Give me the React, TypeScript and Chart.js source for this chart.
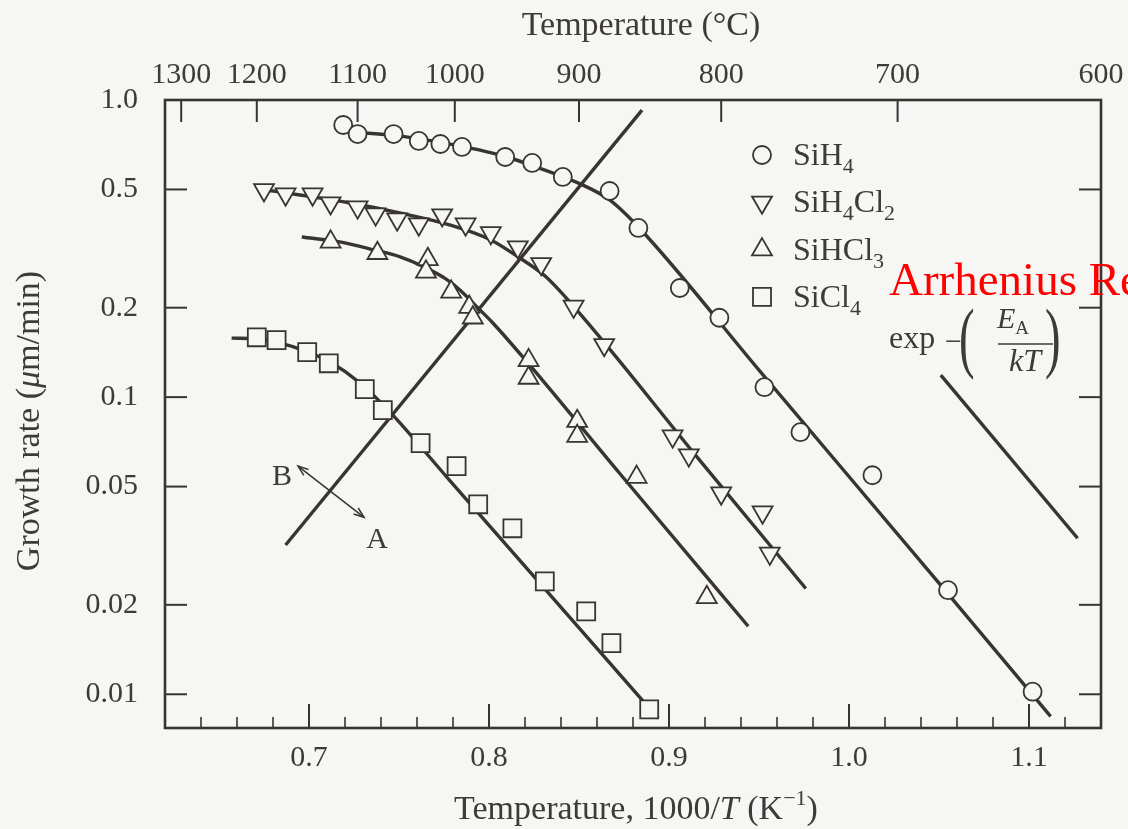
import React, { useEffect, useRef } from 'react';
import { Chart, registerables } from 'chart.js';

Chart.register(...registerables);

const SERIF = '"Liberation Serif", "DejaVu Serif", serif';
const INK = '#383434';
const TEXT = '#3e3a3a';
const PAPER = '#f6f6f4';
const RED = '#ff0000';

// ---- axes ----
const X_MIN = 0.62;
const X_MAX = 1.14;
const Y_MIN = 0.0077;
const Y_MAX = 1.0;

const xTickValues = [0.7, 0.8, 0.9, 1.0, 1.1];
const xTickLabels = ['0.7', '0.8', '0.9', '1.0', '1.1'];
const xMinorTicks = [0.64, 0.66, 0.68, 0.72, 0.74, 0.76, 0.78, 0.82, 0.84, 0.86, 0.88, 0.92, 0.94, 0.96, 0.98, 1.02, 1.04, 1.06, 1.08, 1.12];
const yTickValues = [1, 0.5, 0.2, 0.1, 0.05, 0.02, 0.01];
const yTickLabels = ['1.0', '0.5', '0.2', '0.1', '0.05', '0.02', '0.01'];
const tempTickValues = [0.629, 0.671, 0.727, 0.781, 0.85, 0.929, 1.027, 1.14];
const tempTickLabels = ['1300', '1200', '1100', '1000', '900', '800', '700', '600'];

// ---- measured points (x = 1000/T, y = growth rate µm/min) ----
const siH4X = [0.719, 0.727, 0.747, 0.761, 0.773, 0.785, 0.809, 0.824, 0.841, 0.867, 0.883, 0.906, 0.928, 0.953, 0.973, 1.013, 1.055, 1.102];
const siH4Y = [0.824, 0.768, 0.768, 0.728, 0.711, 0.695, 0.643, 0.614, 0.551, 0.494, 0.371, 0.233, 0.185, 0.108, 0.0762, 0.0546, 0.0224, 0.0102];

const siH2Cl2X = [0.675, 0.687, 0.702, 0.712, 0.727, 0.737, 0.749, 0.761, 0.774, 0.787, 0.801, 0.816, 0.829, 0.847, 0.864, 0.902, 0.911, 0.929, 0.952, 0.956];
const siH2Cl2Y = [0.498, 0.482, 0.482, 0.45, 0.436, 0.413, 0.397, 0.382, 0.41, 0.382, 0.357, 0.32, 0.281, 0.202, 0.15, 0.0739, 0.0638, 0.0475, 0.041, 0.0298];

const siHCl3X = [0.712, 0.738, 0.766, 0.765, 0.779, 0.789, 0.791, 0.822, 0.822, 0.849, 0.849, 0.882, 0.921];
const siHCl3Y = [0.333, 0.305, 0.291, 0.264, 0.226, 0.201, 0.185, 0.133, 0.116, 0.083, 0.0739, 0.0538, 0.0212];

const siCl4X = [0.671, 0.682, 0.699, 0.711, 0.731, 0.741, 0.762, 0.782, 0.794, 0.813, 0.831, 0.854, 0.868, 0.889];
const siCl4Y = [0.159, 0.1556, 0.1418, 0.13, 0.1064, 0.0904, 0.07, 0.0586, 0.0436, 0.0362, 0.024, 0.019, 0.01486, 0.0089];

// ---- fitted curves ----
const siH4FitX = [0.724, 0.751, 0.778, 0.806, 0.828, 0.851, 0.867, 0.884, 0.95, 1.05, 1.112];
const siH4FitY = [0.78, 0.756, 0.711, 0.653, 0.59, 0.521, 0.461, 0.368, 0.1233, 0.02365, 0.00843];

const siH2Cl2FitX = [0.676, 0.695, 0.723, 0.751, 0.778, 0.801, 0.816, 0.831, 0.847, 0.917, 0.976];
const siH2Cl2FitY = [0.498, 0.479, 0.45, 0.416, 0.38, 0.338, 0.297, 0.256, 0.202, 0.0614, 0.0227];

const siHCl3FitX = [0.696, 0.717, 0.736, 0.751, 0.763, 0.776, 0.784, 0.793, 0.802, 0.819, 0.873, 0.944];
const siHCl3FitY = [0.346, 0.333, 0.313, 0.296, 0.276, 0.25, 0.229, 0.202, 0.178, 0.136, 0.055, 0.01694];

const siCl4FitX = [0.657, 0.67, 0.684, 0.698, 0.712, 0.728, 0.744, 0.778, 0.894];
const siCl4FitY = [0.158, 0.157, 0.152, 0.143, 0.131, 0.112, 0.0904, 0.0526, 0.0083];

// boundary between regimes A and B
const boundaryX = [0.687, 0.885];
const boundaryY = [0.0318, 0.925];

// Arrhenius slope reference line
const slopeX = [1.051, 1.127];
const slopeY = [0.1186, 0.0335];

// B <-> A arrow
const arrowX = [0.6939, 0.7306];
const arrowY = [0.0586, 0.0394];

const legendNames = ['SiH4', 'SiH4Cl2', 'SiHCl3', 'SiCl4'];
const legendStyles = ['circle', 'triDown', 'triUp', 'square'];

const f = (s: number) => `${s}px ${SERIF}`;
const fi = (s: number) => `italic ${s}px ${SERIF}`;

type Seg = { t: string; font: string; dy?: number };

function richWidth(ctx: CanvasRenderingContext2D, segs: Seg[]) {
  let w = 0;
  for (const s of segs) {
    ctx.font = s.font;
    w += ctx.measureText(s.t).width;
  }
  return w;
}

function drawRich(ctx: CanvasRenderingContext2D, segs: Seg[], x: number, y: number, align: 'left' | 'center') {
  let cx = align === 'center' ? x - richWidth(ctx, segs) / 2 : x;
  ctx.textAlign = 'left';
  ctx.textBaseline = 'alphabetic';
  for (const s of segs) {
    ctx.font = s.font;
    ctx.fillText(s.t, cx, y + (s.dy || 0));
    cx += ctx.measureText(s.t).width;
  }
}

function chemSegs(name: string, size: number, sub: number): Seg[] {
  return name
    .split(/(\d+)/)
    .filter((p) => p.length)
    .map((p) => (/^\d+$/.test(p) ? { t: p, font: f(sub), dy: 8 } : { t: p, font: f(size) }));
}

function drawMarker(ctx: CanvasRenderingContext2D, style: string, x: number, y: number) {
  ctx.beginPath();
  if (style === 'circle') {
    ctx.arc(x, y, 9, 0, Math.PI * 2);
  } else if (style === 'square') {
    ctx.rect(x - 9, y - 9, 18, 18);
  } else {
    const r = 11.5;
    const s = style === 'triDown' ? -1 : 1;
    ctx.moveTo(x, y - s * r);
    ctx.lineTo(x + r * Math.sin(Math.PI / 3), y + (s * r) / 2);
    ctx.lineTo(x - r * Math.sin(Math.PI / 3), y + (s * r) / 2);
    ctx.closePath();
  }
  ctx.fillStyle = PAPER;
  ctx.fill();
  ctx.lineWidth = 1.8;
  ctx.strokeStyle = INK;
  ctx.stroke();
}

function seg(ctx: CanvasRenderingContext2D, x1: number, y1: number, x2: number, y2: number) {
  ctx.beginPath();
  ctx.moveTo(x1, y1);
  ctx.lineTo(x2, y2);
  ctx.stroke();
}

const decor = {
  id: 'decor',
  beforeDraw(chart: any) {
    const { ctx, width, height } = chart;
    ctx.save();
    ctx.fillStyle = PAPER;
    ctx.fillRect(0, 0, width, height);
    ctx.restore();
  },
  afterDatasetsDraw(chart: any) {
    const { ctx } = chart;
    const { left, right, top, bottom } = chart.chartArea;
    const xs = chart.scales.x;
    const ys = chart.scales.y;
    ctx.save();
    ctx.strokeStyle = INK;
    ctx.lineCap = 'butt';

    // tick marks (inward)
    ctx.lineWidth = 2;
    yTickValues.forEach((v) => {
      const py = ys.getPixelForValue(v);
      seg(ctx, left, py, left + 22, py);
      seg(ctx, right, py, right - 22, py);
    });
    xTickValues.forEach((v) => {
      const px = xs.getPixelForValue(v);
      seg(ctx, px, bottom, px, bottom - 24);
    });
    ctx.lineWidth = 1.6;
    xMinorTicks.forEach((v) => {
      const px = xs.getPixelForValue(v);
      seg(ctx, px, bottom, px, bottom - 11);
    });
    ctx.lineWidth = 2;
    tempTickValues.forEach((v) => {
      const px = xs.getPixelForValue(v);
      seg(ctx, px, top, px, top + 22);
    });

    // frame
    ctx.lineWidth = 2.6;
    ctx.strokeRect(left, top, right - left, bottom - top);

    // arrow B <-> A
    const ax1 = xs.getPixelForValue(arrowX[0]);
    const ay1 = ys.getPixelForValue(arrowY[0]);
    const ax2 = xs.getPixelForValue(arrowX[1]);
    const ay2 = ys.getPixelForValue(arrowY[1]);
    ctx.lineWidth = 1.5;
    seg(ctx, ax1, ay1, ax2, ay2);
    const ang = Math.atan2(ay2 - ay1, ax2 - ax1);
    const head = (hx: number, hy: number, a: number) => {
      ctx.beginPath();
      ctx.moveTo(hx + 11 * Math.cos(a + 0.35), hy + 11 * Math.sin(a + 0.35));
      ctx.lineTo(hx, hy);
      ctx.lineTo(hx + 11 * Math.cos(a - 0.35), hy + 11 * Math.sin(a - 0.35));
      ctx.stroke();
    };
    head(ax1, ay1, ang);
    head(ax2, ay2, ang + Math.PI);

    ctx.fillStyle = TEXT;
    ctx.font = f(30);
    ctx.textAlign = 'center';
    ctx.textBaseline = 'alphabetic';
    ctx.fillText('B', ax1 - 16, ay1 + 19);
    ctx.fillText('A', ax2 + 13, ay2 + 31);

    // legend
    legendNames.forEach((name, i) => {
      const cy = 155 + i * 47.3;
      drawMarker(ctx, legendStyles[i], 762, cy);
      ctx.fillStyle = TEXT;
      drawRich(ctx, chemSegs(name, 32, 22), 793, cy + 10, 'left');
    });

    // exp -(E_A / kT)
    ctx.fillStyle = TEXT;
    drawRich(ctx, [{ t: 'exp', font: f(32) }], 889, 348, 'left');
    drawRich(ctx, [{ t: '\u2212', font: f(30) }], 945, 351, 'left');
    ctx.font = f(78);
    ctx.save();
    ctx.translate(959, 363);
    ctx.scale(0.6, 1);
    ctx.fillText('(', 0, 0);
    ctx.restore();
    ctx.save();
    ctx.translate(1045, 363);
    ctx.scale(0.6, 1);
    ctx.fillText(')', 0, 0);
    ctx.restore();
    drawRich(ctx, [{ t: 'E', font: fi(30) }, { t: 'A', font: f(19), dy: 6 }], 997, 328, 'left');
    ctx.lineWidth = 1.6;
    ctx.strokeStyle = TEXT;
    seg(ctx, 998, 344, 1053, 344);
    drawRich(ctx, [{ t: 'kT', font: fi(32) }], 1025, 371, 'center');

    // red overlay text
    ctx.fillStyle = RED;
    drawRich(ctx, [{ t: 'Arrhenius Re', font: f(47) }], 889, 295, 'left');

    // axis titles
    ctx.fillStyle = TEXT;
    drawRich(ctx, [{ t: 'Temperature (\u00B0C)', font: f(34) }], 641, 35, 'center');
    drawRich(
      ctx,
      [
        { t: 'Temperature, 1000/', font: f(34) },
        { t: 'T', font: fi(34) },
        { t: ' (K', font: f(34) },
        { t: '\u22121', font: f(22), dy: -14 },
        { t: ')', font: f(34) },
      ],
      636,
      819,
      'center'
    );
    ctx.save();
    ctx.translate(39, 421);
    ctx.rotate(-Math.PI / 2);
    drawRich(
      ctx,
      [
        { t: 'Growth rate (', font: f(34) },
        { t: '\u03BC', font: fi(34) },
        { t: 'm/min)', font: f(34) },
      ],
      0,
      0,
      'center'
    );
    ctx.restore();
    ctx.restore();
  },
};

const pts = (xs: number[], ys: number[]) => xs.map((x, i) => ({ x, y: ys[i] }));

const markerDs = (label: string, xs: number[], ys: number[], style: string, rot: number, r: number) => ({
  type: 'line' as const,
  label,
  data: pts(xs, ys),
  showLine: false,
  pointStyle: style,
  pointRotation: rot,
  pointRadius: r,
  pointHoverRadius: r,
  pointBorderWidth: 1.8,
  pointBorderColor: INK,
  pointBackgroundColor: PAPER,
  order: 0,
});

const curveDs = (label: string, xs: number[], ys: number[], mono: boolean) => ({
  type: 'line' as const,
  label,
  data: pts(xs, ys),
  showLine: true,
  borderColor: INK,
  borderWidth: 3.4,
  pointRadius: 0,
  pointHoverRadius: 0,
  cubicInterpolationMode: mono ? ('monotone' as const) : ('default' as const),
  tension: 0,
  fill: false,
  order: 1,
});

const tickFont = { family: SERIF, size: 30 };

export default function App() {
  const ref = useRef<HTMLCanvasElement>(null);

  useEffect(() => {
    if (!ref.current) return;
    const chart = new Chart(ref.current, {
      type: 'line',
      data: {
        datasets: [
          markerDs('SiH4', siH4X, siH4Y, 'circle', 0, 9),
          markerDs('SiH4Cl2', siH2Cl2X, siH2Cl2Y, 'triangle', 180, 11.5),
          markerDs('SiHCl3', siHCl3X, siHCl3Y, 'triangle', 0, 11.5),
          markerDs('SiCl4', siCl4X, siCl4Y, 'rect', 0, 12.7),
          curveDs('SiH4 fit', siH4FitX, siH4FitY, true),
          curveDs('SiH4Cl2 fit', siH2Cl2FitX, siH2Cl2FitY, true),
          curveDs('SiHCl3 fit', siHCl3FitX, siHCl3FitY, true),
          curveDs('SiCl4 fit', siCl4FitX, siCl4FitY, true),
          curveDs('A/B boundary', boundaryX, boundaryY, false),
          curveDs('exp(-EA/kT)', slopeX, slopeY, false),
        ] as any,
      },
      options: {
        animation: false,
        responsive: false,
        devicePixelRatio: 1,
        events: [],
        layout: { padding: { left: 0, right: 27, top: 0, bottom: 0 } },
        plugins: { legend: { display: false }, tooltip: { enabled: false } },
        scales: {
          x: {
            type: 'linear',
            position: 'bottom',
            min: X_MIN,
            max: X_MAX,
            grid: { display: false, drawTicks: false },
            border: { display: false },
            afterBuildTicks: (s: any) => {
              s.ticks = xTickValues.map((v) => ({ value: v }));
            },
            afterFit: (s: any) => {
              s.height = 101;
              s.paddingLeft = 0;
              s.paddingRight = 0;
            },
            ticks: {
              callback: (_v: any, i: number) => xTickLabels[i],
              font: tickFont,
              color: TEXT,
              padding: 12,
              maxRotation: 0,
              autoSkip: false,
            },
          },
          xTop: {
            type: 'linear',
            axis: 'x',
            position: 'top',
            min: X_MIN,
            max: X_MAX,
            grid: { display: false, drawTicks: false },
            border: { display: false },
            afterBuildTicks: (s: any) => {
              s.ticks = tempTickValues.map((v) => ({ value: v }));
            },
            afterFit: (s: any) => {
              s.height = 100;
              s.paddingLeft = 0;
              s.paddingRight = 0;
            },
            ticks: {
              callback: (_v: any, i: number) => tempTickLabels[i],
              font: tickFont,
              color: TEXT,
              padding: 7,
              maxRotation: 0,
              autoSkip: false,
            },
          },
          y: {
            type: 'logarithmic',
            position: 'left',
            min: Y_MIN,
            max: Y_MAX,
            grid: { display: false, drawTicks: false },
            border: { display: false },
            afterBuildTicks: (s: any) => {
              s.ticks = yTickValues.map((v) => ({ value: v }));
            },
            afterFit: (s: any) => {
              s.width = 165;
              s.paddingTop = 0;
              s.paddingBottom = 0;
            },
            ticks: {
              callback: (_v: any, i: number) => yTickLabels[i],
              font: tickFont,
              color: TEXT,
              padding: 27,
              autoSkip: false,
            },
          },
        } as any,
      },
      plugins: [decor],
    });
    return () => chart.destroy();
  }, []);

  return (
    <div style={{ position: 'absolute', left: 0, top: 0, width: 1128, height: 829, background: PAPER }}>
      <canvas ref={ref} width={1128} height={829} style={{ display: 'block', width: 1128, height: 829 }} />
    </div>
  );
}
